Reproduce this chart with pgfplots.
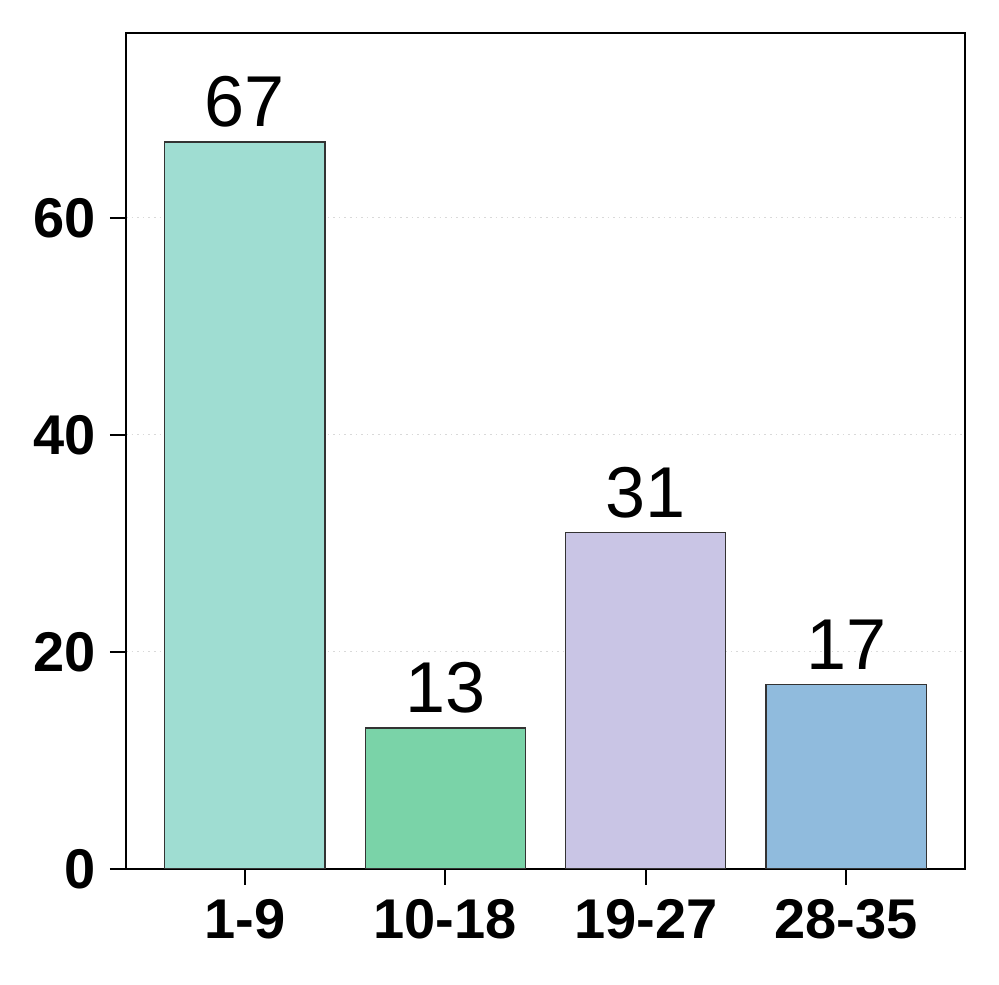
\documentclass[border=0pt]{standalone}
\usepackage{pgfplots}
\pgfplotsset{compat=1.18}
\usepackage{fontspec}
\setmainfont{Liberation Sans}
\definecolor{c1}{HTML}{9FDDD2}
\definecolor{c2}{HTML}{7AD3A8}
\definecolor{c3}{HTML}{C9C5E5}
\definecolor{c4}{HTML}{90BBDD}
\definecolor{edge}{HTML}{333333}
\begin{document}
\begin{tikzpicture}
\useasboundingbox (-31.5pt,-29pt) rectangle (218.25pt,217.25pt);
\begin{axis}[
  scale only axis, width=209.75pt, height=209pt,
  at={(0,0)}, anchor=south west,
  ybar, bar width=0.8, bar shift=0pt,
  xmin=-0.593, xmax=3.593, ymin=0, ymax=77.05,
  xtick={0,1,2,3}, xticklabels={1-9,10-18,19-27,28-35},
  ytick={0,20,40,60},
  xtick pos=bottom, ytick pos=left,
  tick align=outside, major tick length=4pt,
  tick style={black, line width=0.5pt},
  axis line style={line width=0.5pt},
  ymajorgrids, grid style={densely dotted, black!15, line width=0.25pt},
  ticklabel style={font=\bfseries\fontsize{14}{16}\selectfont},
  /pgf/number format/assume math mode=true,
  nodes near coords,
  every node near coord/.append style={font=\fontsize{18}{20}\selectfont, inner sep=0pt, yshift=3.5pt, black},
]
\addplot[fill=c1, draw=edge, line width=0.3pt] coordinates {(0,67)};
\addplot[fill=c2, draw=edge, line width=0.3pt] coordinates {(1,13)};
\addplot[fill=c3, draw=edge, line width=0.3pt] coordinates {(2,31)};
\addplot[fill=c4, draw=edge, line width=0.3pt] coordinates {(3,17)};
\end{axis}
\end{tikzpicture}
\end{document}
